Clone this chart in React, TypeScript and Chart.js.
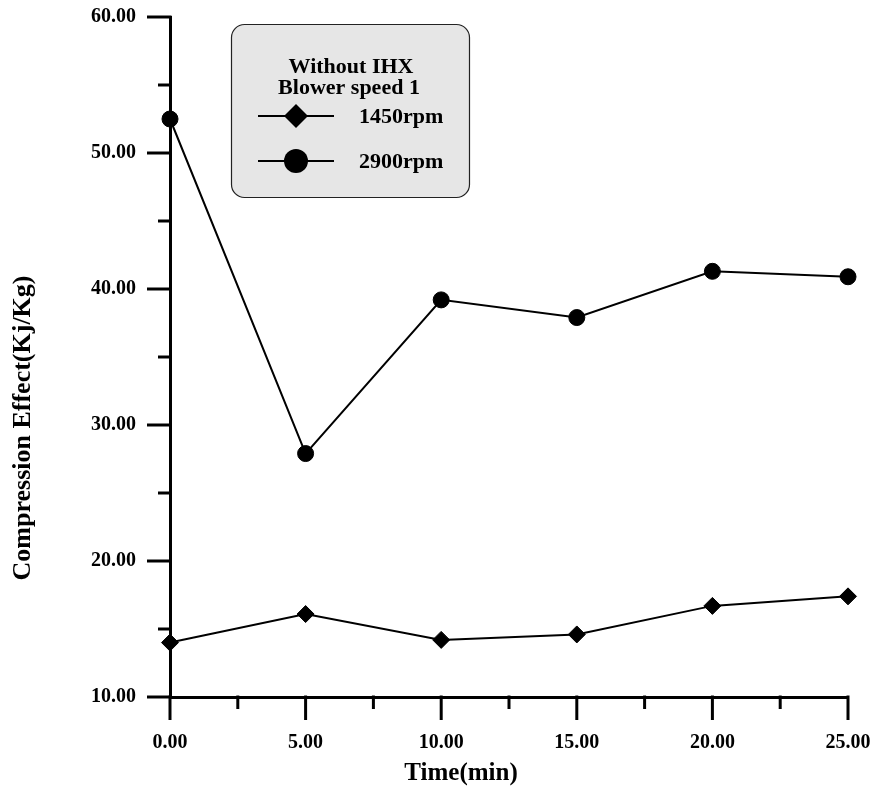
import React, { useEffect, useRef } from "react";
import { Chart, registerables } from "chart.js";

Chart.register(...registerables);

const TIME = [0, 5, 10, 15, 20, 25];
const RPM_1450 = [14.0, 16.1, 14.2, 14.6, 16.7, 17.4];
const RPM_2900 = [52.5, 27.9, 39.2, 37.9, 41.3, 40.9];
const SERIES_LABELS = ["1450rpm", "2900rpm"];
const LEGEND_TITLE = ["Without IHX", "Blower speed 1"];
const X_TICKS = [0, 2.5, 5, 7.5, 10, 12.5, 15, 17.5, 20, 22.5, 25];
const Y_TICKS = [10, 15, 20, 25, 30, 35, 40, 45, 50, 55, 60];
const X_TITLE = "Time(min)";
const Y_TITLE = "Compression Effect(Kj/Kg)";

const FONT = "'Liberation Serif', 'Times New Roman', serif";

function diamond(ctx: CanvasRenderingContext2D, x: number, y: number, r: number) {
  ctx.beginPath();
  ctx.moveTo(x - r, y);
  ctx.lineTo(x, y - r);
  ctx.lineTo(x + r, y);
  ctx.lineTo(x, y + r);
  ctx.closePath();
  ctx.fill();
}

function roundRect(ctx: CanvasRenderingContext2D, x: number, y: number, w: number, h: number, r: number) {
  ctx.beginPath();
  ctx.moveTo(x + r, y);
  ctx.lineTo(x + w - r, y);
  ctx.arcTo(x + w, y, x + w, y + r, r);
  ctx.lineTo(x + w, y + h - r);
  ctx.arcTo(x + w, y + h, x + w - r, y + h, r);
  ctx.lineTo(x + r, y + h);
  ctx.arcTo(x, y + h, x, y + h - r, r);
  ctx.lineTo(x, y + r);
  ctx.arcTo(x, y, x + r, y, r);
  ctx.closePath();
}

const decorPlugin = {
  id: "decor",
  afterDraw(chart: any) {
    const ctx: CanvasRenderingContext2D = chart.ctx;
    const xs = chart.scales.x;
    const ys = chart.scales.y;
    const ca = chart.chartArea;
    ctx.save();
    // tick marks
    ctx.strokeStyle = "#000";
    ctx.lineWidth = 3;
    ctx.lineCap = "butt";
    for (const v of X_TICKS) {
      const px = xs.getPixelForValue(v);
      const len = v % 5 === 0 ? 23 : 12;
      ctx.beginPath();
      ctx.moveTo(px, ca.bottom - 1.5);
      ctx.lineTo(px, ca.bottom + len);
      ctx.stroke();
    }
    for (const v of Y_TICKS) {
      const py = ys.getPixelForValue(v);
      const len = v % 10 === 0 ? 23 : 12;
      ctx.beginPath();
      ctx.moveTo(ca.left + 1.5, py);
      ctx.lineTo(ca.left - len, py);
      ctx.stroke();
    }

    // axis titles
    ctx.fillStyle = "#000";
    ctx.font = `bold 25px ${FONT}`;
    ctx.textAlign = "center";
    ctx.textBaseline = "alphabetic";
    ctx.fillText(X_TITLE, 461, 780);
    ctx.save();
    ctx.translate(30, 428);
    ctx.rotate(-Math.PI / 2);
    ctx.font = `bold 26px ${FONT}`;
    ctx.fillText(Y_TITLE, 0, 0);
    ctx.restore();

    // legend box
    roundRect(ctx, 231.5, 24.5, 238, 173, 13);
    ctx.fillStyle = "#e6e6e6";
    ctx.fill();
    ctx.strokeStyle = "#222";
    ctx.lineWidth = 1.2;
    ctx.stroke();

    ctx.fillStyle = "#000";
    ctx.font = `bold 22px ${FONT}`;
    ctx.textAlign = "center";
    ctx.fillText(LEGEND_TITLE[0], 351, 73);
    ctx.fillText(LEGEND_TITLE[1], 349, 94);

    const rows = [116, 161];
    chart.data.datasets.forEach((ds: any, i: number) => {
      const y = rows[i];
      ctx.strokeStyle = "#000";
      ctx.lineWidth = 2;
      ctx.beginPath();
      ctx.moveTo(258, y);
      ctx.lineTo(334, y);
      ctx.stroke();
      ctx.fillStyle = "#000";
      if (ds.pointStyle === "rectRot") {
        diamond(ctx, 296, y, 12);
      } else {
        ctx.beginPath();
        ctx.arc(296, y, 12, 0, Math.PI * 2);
        ctx.fill();
      }
      ctx.textAlign = "left";
      ctx.fillText(ds.label, 359, y + 7);
    });
    ctx.restore();
  },
};

export default function App() {
  const ref = useRef<HTMLCanvasElement | null>(null);

  useEffect(() => {
    if (!ref.current) return;
    const chart = new Chart(ref.current, {
      type: "line",
      data: {
        datasets: [
          {
            label: SERIES_LABELS[0],
            data: TIME.map((t, i) => ({ x: t, y: RPM_1450[i] })),
            borderColor: "#000",
            borderWidth: 2,
            pointStyle: "rectRot",
            pointRadius: 8.5,
            pointBackgroundColor: "#000",
            pointBorderColor: "#000",
            pointBorderWidth: 1,
            tension: 0,
            clip: false as any,
          },
          {
            label: SERIES_LABELS[1],
            data: TIME.map((t, i) => ({ x: t, y: RPM_2900[i] })),
            borderColor: "#000",
            borderWidth: 2,
            pointStyle: "circle",
            pointRadius: 8,
            pointBackgroundColor: "#000",
            pointBorderColor: "#000",
            pointBorderWidth: 1,
            tension: 0,
            clip: false as any,
          },
        ],
      },
      options: {
        animation: false,
        responsive: true,
        maintainAspectRatio: false,
        events: [],
        layout: { padding: { left: 0, top: 17, right: 26, bottom: 0 } },
        plugins: {
          legend: { display: false },
          tooltip: { enabled: false },
        },
        scales: {
          x: {
            type: "linear",
            min: 0,
            max: 25,
            afterFit: (scale: any) => {
              scale.height = 97;
              scale.paddingLeft = 0;
              scale.paddingRight = 0;
            },
            ticks: {
              stepSize: 2.5,
              autoSkip: false,
              maxRotation: 0,
              padding: 11,
              color: "#000",
              font: { family: FONT, size: 20, weight: "bold" },
              callback: (v: any) => (Number(v) % 5 === 0 ? Number(v).toFixed(2) : ""),
            },
            grid: {
              display: true,
              drawOnChartArea: false,
              drawTicks: true,
              tickLength: 23,
              tickColor: "rgba(0,0,0,0)",
            },
            border: { display: true, color: "#000", width: 3 },
          },
          y: {
            type: "linear",
            min: 10,
            max: 60,
            afterFit: (scale: any) => {
              scale.width = 170;
              scale.paddingTop = 0;
              scale.paddingBottom = 0;
            },
            ticks: {
              stepSize: 5,
              autoSkip: false,
              padding: 11,
              color: "#000",
              font: { family: FONT, size: 20, weight: "bold" },
              callback: (v: any) => (Number(v) % 10 === 0 ? Number(v).toFixed(2) : ""),
            },
            grid: {
              display: true,
              drawOnChartArea: false,
              drawTicks: true,
              tickLength: 23,
              tickColor: "rgba(0,0,0,0)",
            },
            border: { display: true, color: "#000", width: 3 },
          },
        },
      },
      plugins: [decorPlugin],
    });
    return () => chart.destroy();
  }, []);

  return (
    <div
      style={{
        position: "fixed",
        left: 0,
        top: 0,
        width: 874,
        height: 794,
        background: "#fff",
      }}
    >
      <canvas ref={ref} />
    </div>
  );
}
